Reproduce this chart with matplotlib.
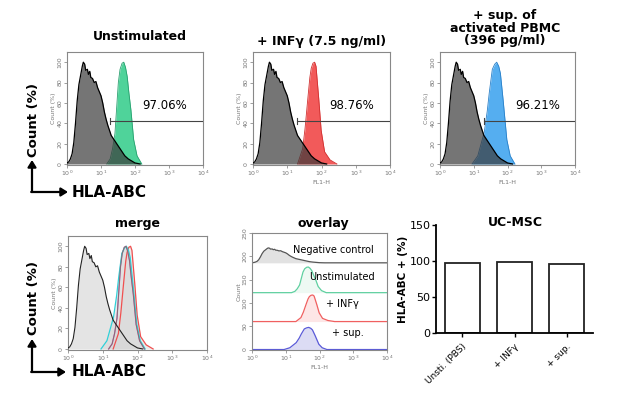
import numpy as np
import matplotlib
matplotlib.use("Agg")
import matplotlib.pyplot as plt

# ---------------- data ----------------
neg_logx = [0.0, 0.05, 0.1, 0.15, 0.2, 0.25, 0.3, 0.35, 0.4, 0.45, 0.48, 0.52, 0.55, 0.6, 0.63, 0.67,
            0.7, 0.75, 0.8, 0.85, 0.9, 0.95, 1.0, 1.05, 1.1, 1.15, 1.2, 1.3, 1.4, 1.5, 1.6, 1.7,
            1.8, 1.9, 2.0, 2.15]
neg_count = [1, 2, 5, 10, 21, 40, 62, 78, 87, 96, 100, 98, 92, 93, 88, 91,
             85, 84, 80, 81, 75, 71, 67, 60, 51, 44, 38, 28, 23, 18, 13, 8,
             5, 3, 1, 0]

unst_logx = [1.17, 1.27, 1.34, 1.41, 1.46, 1.51, 1.56, 1.62, 1.67, 1.72, 1.77, 1.82, 1.88, 1.96, 2.06, 2.20]
unst_count = [0, 5, 15, 30, 55, 80, 93, 99, 100, 95, 86, 70, 53, 24, 8, 0]

infg_logx = [1.30, 1.45, 1.52, 1.60, 1.66, 1.70, 1.75, 1.80, 1.84, 1.88, 1.92, 1.99, 2.09, 2.25, 2.45]
infg_count = [0, 15, 35, 64, 85, 94, 99, 100, 96, 80, 64, 33, 12, 4, 0]

sup_logx = [0.95, 1.12, 1.31, 1.40, 1.46, 1.55, 1.62, 1.68, 1.74, 1.79, 1.87, 1.98, 2.08, 2.22]
sup_count = [0, 8, 31, 52, 70, 93, 98, 100, 96, 89, 63, 24, 8, 0]

percent_labels = ["97.06%", "98.76%", "96.21%"]
gate_logx = [1.27, 1.29, 1.29]
gate_level = 42

bar_categories = ["Unsti. (PBS)", "+ INFγ", "+ sup."]
bar_values = [97.06, 98.76, 96.21]

overlay_labels = ["Negative control", "Unstimulated", "+ INFγ", "+ sup."]
overlay_offsets = [186, 122, 60, 0]
overlay_peaks = [32, 55, 57, 47.5]

hist_xticks = [1, 10, 100, 1000, 10000]
hist_xticklabels = ["$10^0$", "$10^1$", "$10^2$", "$10^3$", "$10^4$"]

# ---------------- figure ----------------
W, H = 618, 403
fig = plt.figure(figsize=(W / 100, H / 100), dpi=100)
plt.rcParams['font.family'] = ['DejaVu Sans']


def add_ax(x0, y0, x1, y1):
    return fig.add_axes([x0 / W, 1 - y1 / H, (x1 - x0) / W, (y1 - y0) / H])


def style_hist(ax, ylim=(-1, 110), yticks=range(0, 101, 20), ylabel="Count (%)", xlabel="FL1-H"):
    ax.set_xscale('log')
    ax.set_xlim(1, 10000)
    ax.set_ylim(*ylim)
    ax.set_xticks(hist_xticks)
    ax.set_xticklabels(hist_xticklabels)
    ax.minorticks_off()
    ax.set_yticks(list(yticks))
    ax.tick_params(labelsize=4.5, colors="#777777", length=2, width=0.5, pad=1)
    for lab in ax.get_yticklabels():
        lab.set_rotation(90)
        lab.set_va('center')
    for s in ax.spines.values():
        s.set_color("#888888")
        s.set_linewidth(0.8)
    ax.set_ylabel(ylabel, fontsize=4.5, color="#777777", labelpad=1)
    if xlabel:
        ax.set_xlabel(xlabel, fontsize=4.5, color="#777777", labelpad=1)


nx = 10 ** np.array(neg_logx)
ny = np.array(neg_count)

top_positions = [(67, 52, 203, 165), (253, 52, 390, 165), (440, 52, 575, 165)]
pos_data = [(unst_logx, unst_count, "#4fd39a", "#2aa070"),
            (infg_logx, infg_count, "#f25a5a", "#d03030"),
            (sup_logx, sup_count, "#55aef0", "#2a80c8")]

for i, (pos, (lx, cy, fc, ec)) in enumerate(zip(top_positions, pos_data)):
    ax = add_ax(*pos)
    px = 10 ** np.array(lx)
    ax.fill_between(px, cy, 0, color=fc, lw=0, zorder=2)
    ax.plot(px, cy, color=ec, lw=0.6, zorder=3)
    ax.fill_between(nx, ny, 0, color="#3a3a3a", alpha=0.7, lw=0, zorder=4)
    ax.plot(nx, ny, color="black", lw=0.9, zorder=5)
    g = 10 ** gate_logx[i]
    ax.plot([g, 10000], [gate_level, gate_level], color="#444444", lw=0.8, zorder=6)
    ax.plot([g, g], [gate_level - 3, gate_level + 3], color="#444444", lw=0.8, zorder=6)
    ax.text(10 ** 2.88, 57, percent_labels[i], fontsize=8.5, ha='center', va='center', zorder=7)
    style_hist(ax, xlabel=None if i == 0 else "FL1-H")

# titles top
fig.text(140 / W, 1 - 37 / H, "Unstimulated", fontsize=9, fontweight='bold', ha='center', va='center')
fig.text(322 / W, 1 - 41 / H, "+ INFγ (7.5 ng/ml)", fontsize=9, fontweight='bold', ha='center', va='center')
fig.text(505 / W, 1 - 28 / H, "+ sup. of\nactivated PBMC\n(396 pg/ml)", fontsize=9, fontweight='bold',
         ha='center', va='center', linespacing=0.95)

# merge panel
ax = add_ax(68, 236, 207, 350)
merge_cols = [("#c070c0", unst_logx, unst_count), ("#f05050", infg_logx, infg_count),
              ("#30d0d8", sup_logx, sup_count)]
ax.fill_between(nx, ny, 0, color="#e4e4e4", lw=0, zorder=2)
ax.plot(nx, ny, color="#222222", lw=0.8, zorder=5)
for col, lx, cy in merge_cols:
    px = 10 ** np.array(lx)
    ax.fill_between(px, cy, 0, color="#d8d8d8", alpha=0.5, lw=0, zorder=3)
    ax.plot(px, cy, color=col, lw=0.9, zorder=4)
ax.plot(10 ** np.array(unst_logx), unst_count, color="#8a6a70", lw=0.7, zorder=4)
style_hist(ax, xlabel=None)
fig.text(137 / W, 1 - 224 / H, "merge", fontsize=9, fontweight='bold', ha='center', va='center')

# overlay panel
ax = add_ax(252, 233, 387, 350)
ov_data = [(neg_logx, neg_count, "#555555", "#e2e2e2"),
           (unst_logx, unst_count, "#5fd0a0", "#eef9f3"),
           (infg_logx, infg_count, "#f06060", "#fde6e6"),
           (sup_logx, sup_count, "#5a5ad8", "#dcdcf4")]
for (lx, cy, lc, fc), off, pk in zip(ov_data, overlay_offsets, overlay_peaks):
    px = np.concatenate([[1.0], 10 ** np.array(lx), [10000.0]])
    py = off + np.concatenate([[0], np.array(cy) * pk / 100.0, [0]])
    ax.fill_between(px, py, off, color=fc, lw=0)
    ax.plot(px, py, color=lc, lw=0.9)
label_pos = [(333, 250), (342, 277), (342, 304), (348, 333)]
for lab, (x, y) in zip(overlay_labels, label_pos):
    fig.text(x / W, 1 - y / H, lab, fontsize=7, ha='center', va='center')
style_hist(ax, ylim=(-1, 250), yticks=range(0, 251, 50), ylabel="Count")
fig.text(323 / W, 1 - 224 / H, "overlay", fontsize=9, fontweight='bold', ha='center', va='center')

# bar chart
ax = add_ax(436, 225, 593, 333)
xs = np.arange(len(bar_values))
ax.bar(xs, bar_values, width=0.67, color="white", edgecolor="#222222", linewidth=1.3)
ax.set_xlim(-0.5, 2.5)
ax.set_ylim(0, 150)
ax.set_yticks([0, 50, 100, 150])
ax.set_xticks(xs)
ax.set_xticklabels(bar_categories, rotation=45, ha='right', rotation_mode='anchor', fontsize=6.5)
ax.tick_params(axis='y', labelsize=8, length=3, width=1, pad=1)
ax.tick_params(axis='x', length=3, width=1)
for s in ['top', 'right']:
    ax.spines[s].set_visible(False)
for s in ['left', 'bottom']:
    ax.spines[s].set_linewidth(1.3)
ax.set_ylabel("HLA-ABC + (%)", fontsize=7.5, fontweight='bold', labelpad=1)
fig.text(515 / W, 1 - 223 / H, "UC-MSC", fontsize=9, fontweight='bold', ha='center', va='center')

# big axis labels with arrows
for (cy_count, cy_corner, y_top, x_right) in [(120, 192, 160, 68), (298, 372, 339, 66)]:
    fig.text(33 / W, 1 - cy_count / H, "Count (%)", fontsize=9.5, fontweight='bold', rotation=90,
             ha='center', va='center')
    fig.text(72 / W, 1 - cy_corner / H, "HLA-ABC", fontsize=11, fontweight='bold', ha='left', va='center')
    fig.patches.append(matplotlib.patches.FancyArrowPatch(
        (32 / W, 1 - cy_corner / H), (32 / W, 1 - y_top / H), transform=fig.transFigure,
        arrowstyle='-|>,head_length=4,head_width=2.5', lw=1.6, color='black', shrinkA=0, shrinkB=0))
    fig.patches.append(matplotlib.patches.FancyArrowPatch(
        (31.2 / W, 1 - cy_corner / H), (x_right / W, 1 - cy_corner / H), transform=fig.transFigure,
        arrowstyle='-|>,head_length=4,head_width=2.5', lw=1.6, color='black', shrinkA=0, shrinkB=0))

fig.savefig("out.png", dpi=100)
